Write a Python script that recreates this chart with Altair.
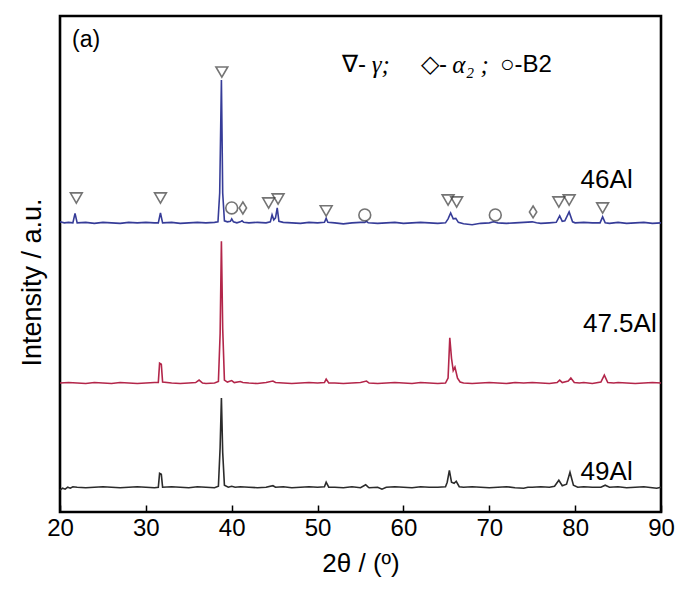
import altair as alt
import pandas as pd

# ---------------- data ----------------
samples = ["46Al", "47.5Al", "49Al"]
offsets = [583, 260, 50]          # vertical stacking offsets (a.u.)
colors = ["#363c98", "#b3264a", "#2b2b2b"]

tt_46 = [20.0, 20.5, 21.0, 21.5, 21.75, 22.0, 23, 24, 25, 26, 27, 28, 29, 30, 31, 31.45, 31.7, 31.95,
         33, 34, 35, 36, 37, 38, 38.4, 38.6, 38.8, 38.95, 39.15, 39.5, 39.85, 40.0, 40.2, 40.6, 41.0,
         41.2, 41.4, 42, 43, 44, 44.5, 44.7, 44.9, 45.1, 45.3, 45.5, 46, 47, 48, 49, 50, 50.8, 51.0,
         51.2, 52, 53, 54, 55, 55.5, 55.7, 55.9, 57, 58, 59, 60, 61, 62, 63, 64, 64.9, 65.2, 65.5,
         65.8, 66.1, 66.4, 67, 68, 69, 70, 70.5, 71, 72, 73, 74, 75, 75.5, 76, 77, 77.8, 78.2, 78.5,
         78.8, 79.3, 79.7, 80, 81, 82, 82.9, 83.2, 83.5, 84, 85, 86, 87, 88, 89, 90]
int_46 = [2, 0, 1, 0, 19, 0, 1, -1, 1, 0, -1, 1, 0, 1, 0, 0, 20, 0,
          1, -1, 0, 1, 0, 1, 2, 60, 288, 60, 4, 2, 3, 8, 2, 0, 2,
          4, 1, 0, 1, 0, 2, 16, 6, 10, 30, 3, 1, 0, -1, 1, 0, 1, 9,
          1, 0, -2, 0, 1, 1, 3, 0, -1, 0, 1, -1, 0, 1, 0, -1, 0, 8, 20,
          8, 9, 1, -2, -4, -1, 0, 2, 0, -1, 0, 1, 2, 0, -1, 0, 1, 14, 3,
          4, 22, 2, 0, 1, 0, 0, 12, 0, -1, 1, -1, 0, 1, -1, 0]

tt_475 = [20, 21, 22, 23, 24, 25, 26, 27, 28, 29, 30, 31, 31.45, 31.6, 31.8, 31.95, 33, 34, 35, 35.8,
          36.2, 36.6, 37, 38, 38.45, 38.65, 38.8, 38.95, 39.15, 39.5, 40.0, 40.3, 41, 41.3, 42, 43, 44,
          44.8, 45.1, 46, 47, 48, 49, 50, 50.8, 51.0, 51.3, 52, 53, 54, 55, 55.7, 56, 57, 58, 59, 60,
          61, 62, 63, 64, 64.9, 65.2, 65.4, 65.6, 65.8, 66.0, 66.3, 66.6, 67, 68, 69, 70, 71, 72, 73,
          74, 75, 76, 77, 77.9, 78.2, 78.5, 79.2, 79.5, 79.9, 80.5, 81, 82, 83.0, 83.4, 83.8, 84.5, 85,
          86, 87, 88, 89, 90]
int_475 = [0, 1, 0, -1, 1, 0, -1, 1, 0, -1, 0, 1, 1, 40, 38, 2, 0, -1, 0, 1,
           6, 0, -1, 0, 3, 100, 286, 110, 6, 2, 5, 1, 3, 1, 0, -1, 1,
           4, 1, 0, -1, 0, 1, 0, 1, 8, 0, 0, -1, 0, 1, 4, 0, -1, 0, 1, 0,
           -1, 1, 0, -1, 0, 10, 91, 50, 25, 32, 10, 2, 0, -1, 0, 1, 0, -1, 1,
           0, 1, 0, -1, 1, 6, 1, 4, 10, 1, 0, 1, -1, 2, 16, 1, 0, 1,
           0, -1, 0, 1, 0]

tt_49 = [20.0, 20.3, 20.6, 20.9, 21.2, 21.5, 22, 23, 24, 25, 26, 27, 28, 29, 30, 31, 31.45, 31.6, 31.8,
         31.95, 33, 34, 35, 36, 37, 38, 38.45, 38.65, 38.8, 38.95, 39.15, 39.6, 40, 40.4, 41, 42, 43,
         44, 44.8, 45.1, 46, 47, 48, 49, 50, 50.8, 51.0, 51.3, 52, 53, 54, 55, 55.6, 55.9, 56, 57,
         57.5, 58, 59, 60, 61, 62, 63, 64, 64.9, 65.1, 65.35, 65.6, 65.9, 66.15, 66.5, 67, 68, 69, 70,
         71, 72, 73, 74, 74.5, 75, 76, 77, 77.6, 78.1, 78.5, 79.0, 79.4, 79.8, 80.3, 81, 82, 83, 83.5,
         84, 85, 86, 87, 88, 89, 89.5, 90]
int_49 = [-6, -2, -4, 0, -2, 1, 0, -1, 0, 1, 0, -1, 0, 1, 0, -1, 0, 28, 26,
          0, 1, 0, -1, 1, 0, -1, 2, 80, 180, 70, 4, 0, 2, 0, 1, 0, -1,
          0, 3, 0, 1, -1, 0, 1, 0, 1, 10, 0, 0, -1, 1, -1, 5, 0, -1, 0,
          -4, 0, 1, 0, -1, 1, 0, 0, 1, 10, 34, 10, 8, 12, 1, 0, 1, 0, -1,
          0, 1, -1, -2, 0, 0, 1, 0, 2, 14, 3, 6, 30, 4, 0, 1, 0, 0, 4,
          0, 1, -1, 0, 1, -1, -2, 0]

# phase markers above the 46Al pattern
marker_tt = [21.9, 31.7, 38.85, 40.0, 41.3, 44.3, 45.4, 51.0, 55.5, 65.2, 66.2, 70.7, 75.1, 78.1, 79.3, 83.2]
marker_y = [633, 633, 887, 613, 613, 623, 631, 607, 599, 629, 625, 599, 605, 625, 629, 613]
marker_phase = ["γ", "γ", "γ", "B2", "α2", "γ", "γ", "γ", "B2", "γ", "γ", "B2", "α2", "γ", "γ", "γ"]

# sample labels
label_text = ["46Al", "47.5Al", "49Al"]
label_tt = [86.7, 89.5, 86.7]
label_y = [653, 363, 64.5]

# ---------------- build tables ----------------
rows = []
for name, off, xs, ys in zip(samples, offsets, [tt_46, tt_475, tt_49], [int_46, int_475, int_49]):
    for i, (a, b) in enumerate(zip(xs, ys)):
        rows.append({"sample": name, "tt": a, "I": b + off, "order": i})
df = pd.DataFrame(rows)

mk = pd.DataFrame({"tt": marker_tt, "I": marker_y, "phase": marker_phase})
lab = pd.DataFrame({"tt": label_tt, "I": label_y, "text": label_text})

leg_sans = pd.DataFrame({"tt": [52.84, 62.05, 71.25], "I": [901, 901, 901], "text": ["∇-", "◇-", "○-B2"]})
leg_ital = pd.DataFrame({"tt": [56.3, 65.7], "I": [901, 901], "text": ["γ;", "α₂ ;"]})
panel = pd.DataFrame({"tt": [21.4], "I": [952], "text": ["(a)"]})

X = alt.Scale(domain=[20, 90], nice=False, zero=False)
Y = alt.Scale(domain=[0, 1000], nice=False, zero=False)

xaxis = alt.Axis(values=[20, 30, 40, 50, 60, 70, 80, 90], tickSize=7, tickWidth=1.5, tickColor="black",
                 offset=-7, domain=False, grid=False, labelFontSize=24, labelFont="Liberation Sans",
                 labelColor="black", labelPadding=4, labelFlush=False, title="2θ / (º)",
                 titleFontSize=26, titleFont="Liberation Sans", titleFontWeight="normal",
                 titleColor="black", titlePadding=10)
yaxis = alt.Axis(title="Intensity / a.u.", labels=False, ticks=False, domain=False, grid=False,
                 titleFontSize=27, titleFont="Liberation Sans", titleFontWeight="normal",
                 titleColor="black", titleX=-28, titleY=266, titleAlign="center", titleBaseline="middle")

lines = alt.Chart(df).mark_line(strokeWidth=1.6).encode(
    x=alt.X("tt:Q", scale=X, axis=xaxis),
    y=alt.Y("I:Q", scale=Y, axis=yaxis),
    color=alt.Color("sample:N", scale=alt.Scale(domain=samples, range=colors), legend=None),
    detail="sample:N",
    order="order:Q",
)

diamond = "M0,-1L0.62,0L0,1L-0.62,0Z"
markers = alt.Chart(mk).mark_point(filled=False, strokeWidth=1.6, color="#3a3a3a").encode(
    x=alt.X("tt:Q", scale=X),
    y=alt.Y("I:Q", scale=Y),
    shape=alt.Shape("phase:N", scale=alt.Scale(domain=["γ", "α2", "B2"],
                                               range=["triangle-down", diamond, "circle"]), legend=None),
    size=alt.Size("phase:N", scale=alt.Scale(domain=["γ", "α2", "B2"], range=[140, 140, 80]), legend=None),
)

labels = alt.Chart(lab).mark_text(align="right", baseline="alphabetic", fontSize=26,
                                  font="Liberation Sans", color="black").encode(
    x=alt.X("tt:Q", scale=X), y=alt.Y("I:Q", scale=Y), text="text:N")

legs = alt.Chart(leg_sans).mark_text(align="left", baseline="middle", fontSize=24,
                                     font="Liberation Sans", color="black").encode(
    x=alt.X("tt:Q", scale=X), y=alt.Y("I:Q", scale=Y), text="text:N")
legi = alt.Chart(leg_ital).mark_text(align="left", baseline="middle", fontSize=25, fontStyle="italic",
                                     font="Liberation Serif", color="black").encode(
    x=alt.X("tt:Q", scale=X), y=alt.Y("I:Q", scale=Y), text="text:N")
pan = alt.Chart(panel).mark_text(align="left", baseline="middle", fontSize=23,
                                 font="Liberation Sans", color="black").encode(
    x=alt.X("tt:Q", scale=X), y=alt.Y("I:Q", scale=Y), text="text:N")

chart = alt.layer(lines, markers, labels, legs, legi, pan).properties(
    width=601, height=496,
    background="white",
    autosize=alt.AutoSizeParams(type="none"),
    padding={"left": 52, "top": 8, "right": 18, "bottom": 76},
).configure_view(stroke="black", strokeWidth=2.6)

chart.save("out.html", embed_options={"renderer": "svg", "actions": False})
